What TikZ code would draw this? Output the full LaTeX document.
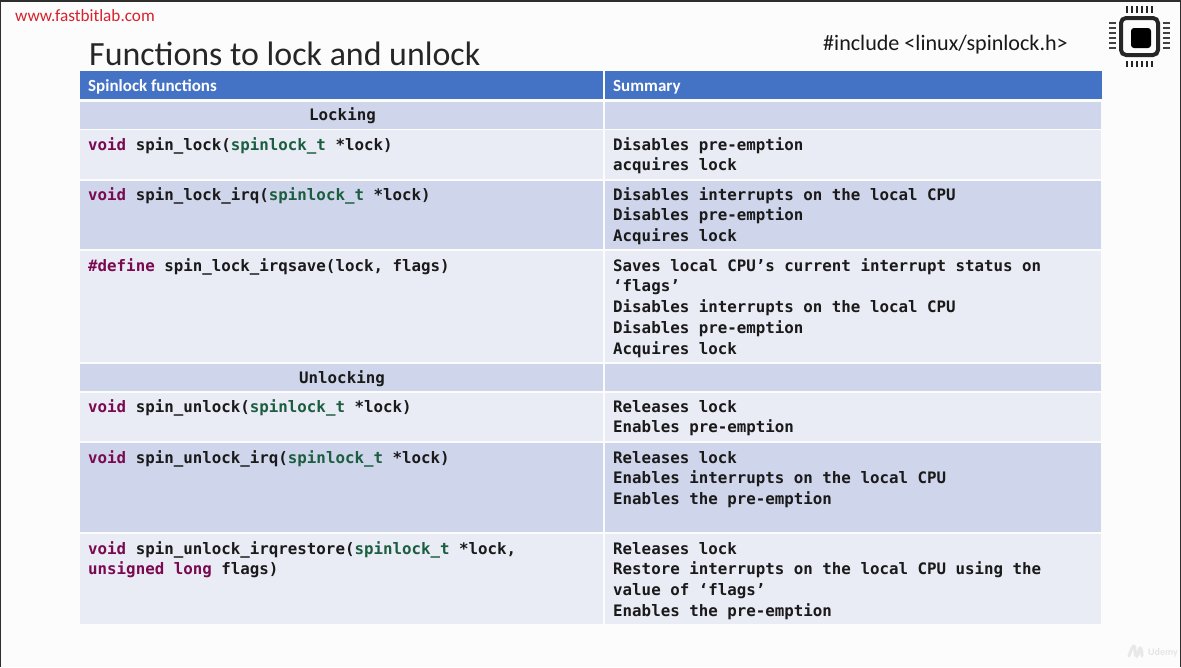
\documentclass[tikz,border=0pt]{standalone}
\usepackage{fontspec}
\setmainfont{Carlito}
\newfontfamily\codefont{DejaVu Sans Mono}
\definecolor{hdr}{HTML}{4472C4}
\definecolor{rowdark}{HTML}{CFD5EA}
\definecolor{rowlight}{HTML}{E9EBF5}
\definecolor{kw}{HTML}{7A0A50}
\definecolor{ty}{HTML}{1B5E3F}
\definecolor{ink}{HTML}{1A1A1A}
\definecolor{frame}{HTML}{2E2E2E}
\newcommand{\KW}[1]{\textcolor{kw}{#1}}
\newcommand{\TY}[1]{\textcolor{ty}{#1}}
\tikzset{
  x=1pt,y=-1pt,
  cell/.style={anchor=north west,inner sep=0pt,outer sep=0pt,minimum height=#1},
  dark/.style={fill=rowdark},
  light/.style={fill=rowlight},
  leftcol/.style={minimum width=523pt},
  rightcol/.style={minimum width=496pt},
  code/.style={anchor=north west,inner sep=0pt,align=left,text=ink,
    font=\codefont\bfseries\fontsize{15.8}{20.8}\selectfont},
  head/.style={anchor=base west,inner sep=0pt,text=white,font=\bfseries\fontsize{17}{20}\selectfont},
  pinv/.style={line width=1.7pt,draw=black!85},
  pinh/.style={line width=1.6pt,draw=black!75},
}
\begin{document}
\begin{tikzpicture}
\useasboundingbox (0,0) rectangle (1181,667);
\fill[white!99!black] (0,0) rectangle (1181,667);
\fill[frame] (0,0) rectangle (1181,2);
\fill[frame] (0,0) rectangle (1.2,667);
\fill[frame] (1179.5,0) rectangle (1181,667);

\node[anchor=base west,inner sep=0pt,text={rgb,255:red,214;green,34;blue,44},font=\fontsize{17.2}{20}\selectfont] (site) at (15,21) {www.fastbitlab.com};
\node[anchor=base west,inner sep=0pt,text=black!85,font=\fontsize{33.9}{40}\selectfont] (title) at (89,65) {Functions to lock and unlock};
\node[anchor=base west,inner sep=0pt,text=black!90,font=\fontsize{22.1}{26}\selectfont] (incl) at (823,50) {\#include <linux/spinlock.h>};

% header
\node[cell=28pt,leftcol,fill=hdr] (h1) at (80,71) {};
\node[cell=28pt,rightcol,fill=hdr,minimum width=497pt] (h2) at (604.5,71) {};
\node[head] (h1t) at (88,91) {Spinlock functions};
\node[head] (h2t) at (613,91) {Summary};

% rows
\node[cell=27pt,leftcol,dark]  (a1) at (80,102) {};
\node[cell=27pt,rightcol,dark] (b1) at (605,102) {};
\node[cell=49pt,leftcol,light] (a2) at (80,130) {};
\node[cell=49pt,rightcol,light](b2) at (605,130) {};
\node[cell=68pt,leftcol,dark]  (a3) at (80,181) {};
\node[cell=68pt,rightcol,dark] (b3) at (605,181) {};
\node[cell=111pt,leftcol,light](a4) at (80,251) {};
\node[cell=111pt,rightcol,light](b4) at (605,251) {};
\node[cell=27pt,leftcol,dark]  (a5) at (80,364) {};
\node[cell=27pt,rightcol,dark] (b5) at (605,364) {};
\node[cell=48pt,leftcol,light] (a6) at (80,393) {};
\node[cell=48pt,rightcol,light](b6) at (605,393) {};
\node[cell=89pt,leftcol,dark]  (a7) at (80,443) {};
\node[cell=89pt,rightcol,dark] (b7) at (605,443) {};
\node[cell=90pt,leftcol,light] (a8) at (80,534) {};
\node[cell=90pt,rightcol,light](b8) at (605,534) {};

% left column text
\node[code] (t1) at (309,105.4) {\strut Locking};
\node[code] (t2) at (88,135.4) {\strut\KW{void} spin\_lock(\TY{spinlock\_t} *lock)};
\node[code] (t3) at (88,185.4) {\strut\KW{void} spin\_lock\_irq(\TY{spinlock\_t} *lock)};
\node[code] (t4) at (88,256.4) {\strut\KW{\#define} spin\_lock\_irqsave(lock, flags)};
\node[code] (t5) at (299,368.4) {\strut Unlocking};
\node[code] (t6) at (88,397.4) {\strut\KW{void} spin\_unlock(\TY{spinlock\_t} *lock)};
\node[code] (t7) at (88,448.4) {\strut\KW{void} spin\_unlock\_irq(\TY{spinlock\_t} *lock)};
\node[code] (t8) at (88,539.4) {\strut\KW{void} spin\_unlock\_irqrestore(\TY{spinlock\_t} *lock,\\\strut\KW{unsigned long} flags)};

% right column text
\node[code] (s2) at (613,135.4) {\strut Disables pre-emption\\\strut acquires lock};
\node[code] (s3) at (613,185.4) {\strut Disables interrupts on the local CPU\\\strut Disables pre-emption\\\strut Acquires lock};
\node[code] (s4) at (613,256.4) {\strut Saves local CPU’s current interrupt status on\\\strut ‘flags’\\\strut Disables interrupts on the local CPU\\\strut Disables pre-emption\\\strut Acquires lock};
\node[code] (s6) at (613,397.4) {\strut Releases lock\\\strut Enables pre-emption};
\node[code] (s7) at (613,448.4) {\strut Releases lock\\\strut Enables interrupts on the local CPU\\\strut Enables the pre-emption};
\node[code] (s8) at (613,539.4) {\strut Releases lock\\\strut Restore interrupts on the local CPU using the\\\strut value of ‘flags’\\\strut Enables the pre-emption};

% chip icon
\draw[line width=4pt,draw=black!85,rounded corners=5pt] (1121,18) rectangle (1158,55);
\fill[black,rounded corners=3pt] (1131,28) rectangle (1151,48);
\foreach \p in {1127,1132,1137,1142,1147,1152}{
  \draw[pinv] (\p,6) -- (\p,13);
  \draw[pinv] (\p,61) -- (\p,67);
}
\foreach \p in {23,28,33,38,43,48}{
  \draw[pinh] (1109,\p) -- (1116,\p);
  \draw[pinh] (1163,\p) -- (1170,\p);
}

% watermark
\draw[black!9,line width=3pt,line cap=round] (1129,656) .. controls (1133,644) and (1135,644) .. (1135,650) .. controls (1135,658) and (1138,658) .. (1139,650) .. controls (1140,646) and (1142,648) .. (1142,656);
\node[anchor=base west,inner sep=0pt,text=black!10,font=\bfseries\fontsize{10}{12}\selectfont] (udemy) at (1148,655) {Udemy};
\end{tikzpicture}
\end{document}
